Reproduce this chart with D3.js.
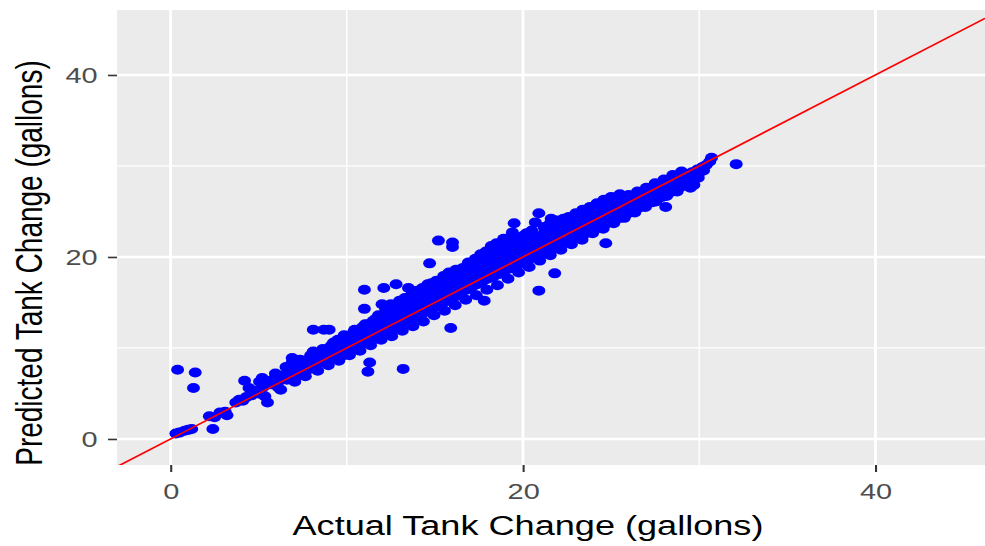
<!DOCTYPE html>
<html>
<head>
<meta charset="utf-8">
<script src="https://cdn.jsdelivr.net/npm/d3@7"></script>
<style>
  body { margin: 0; background: #ffffff; }
  svg { display: block; }
  text { font-family: "Liberation Sans", Arial, sans-serif; }
</style>
</head>
<body>
<div class="scatter_wrapper"></div>
<script>

const xTicks = [0, 20, 40]
const yTicks = [0, 20, 40]
const xMinor = [10, 30]
const yMinor = [10, 30]
const xTitle = "Actual Tank Change (gallons)"
const yTitle = "Predicted Tank Change (gallons)"

// [actual, predicted] in gallons
const tankObs = [
  [0.3,0.6],[0.5,0.7],[0.8,0.9],[1.0,1.0],[1.2,1.1],[2.2,2.5],[2.5,2.4],[2.8,2.9],[3.1,3.0],[3.2,2.6],
  [2.4,1.1],[0.4,7.6],[1.4,7.3],[1.3,5.6],
  [3.7,4.0],[3.9,4.3],[4.1,4.2],[4.3,4.6],[4.2,6.4],[4.6,4.8],[4.8,5.3],[5.0,5.0],[5.2,5.6],[5.4,5.9],
  [5.5,4.0],[5.2,6.7],[5.7,6.0],[5.8,6.5],[6.0,6.2],[6.1,5.7],[6.3,6.6],[6.4,7.0],[6.6,6.5],[6.7,7.3],
  [6.9,7.1],[6.9,8.4],[6.9,8.9],[7.1,7.6],[7.2,6.9],[7.4,7.8],[7.5,8.2],[7.7,7.5],[7.8,8.0],[8.0,8.6],
  [8.1,9.6],[8.1,12.0],[8.7,12.0],[8.2,8.0],[8.3,8.9],[8.5,8.4],[8.6,9.2],[8.8,8.7],[8.9,9.5],[9.0,9.0],
  [9.0,12.0],[9.1,10.2],[9.2,8.8],[9.3,9.8],[9.5,9.4],[9.5,10.9],[9.6,10.3],[9.7,9.1],[9.8,10.0],[9.9,11.2],
  [10.0,10.8],[10.0,9.6],[10.2,10.3],[10.3,11.1],[10.4,9.8],[10.4,11.8],[10.5,10.6],[10.6,11.5],[10.7,10.2],
  [10.8,11.0],[10.9,10.5],[10.9,12.3],[11.0,11.8],[11.0,16.4],[11.0,14.3],[11.1,10.9],[11.2,11.4],[11.3,12.3],
  [11.3,8.4],[11.2,7.4],[11.4,10.8],[11.5,11.7],[11.5,13.0],[11.6,12.5],[11.7,11.2],[11.8,12.0],[11.8,13.6],
  [11.9,12.9],[12.0,14.8],[12.0,11.5],[12.1,16.6],[12.1,12.4],[12.2,13.2],[12.2,14.3],[12.3,11.8],[12.4,12.7],
  [12.5,13.4],[12.5,14.8],[12.6,12.0],[12.7,12.9],[12.8,17.0],[12.8,13.8],[12.9,12.4],[13.0,13.2],[13.0,15.2],
  [13.1,14.0],[13.2,7.7],[13.2,12.6],[13.3,13.6],[13.3,15.5],[13.4,14.4],[13.5,16.6],[13.5,13.0],[13.6,13.9],
  [13.7,14.7],[13.7,15.9],[13.8,13.3],[13.9,14.2],[14.0,15.0],[14.0,16.3],[14.1,13.6],[14.2,14.4],[14.3,15.3],
  [14.3,16.6],[14.4,13.9],[14.5,14.8],[14.6,17.0],[14.6,15.6],[14.7,19.3],[14.7,14.2],[14.8,15.1],[14.8,17.1],
  [14.9,15.9],[15.0,14.5],[15.1,15.3],[15.1,17.4],[15.2,21.8],[15.2,16.2],[15.3,14.8],[15.4,15.7],[15.5,16.6],
  [15.5,17.9],[15.6,15.1],[15.7,16.0],[15.8,16.9],[15.8,18.3],[15.9,12.2],[15.9,15.4],[16.0,21.6],[16.0,21.1],
  [16.0,16.3],[16.1,18.2],[16.1,17.2],[16.2,15.7],[16.2,18.6],[16.3,16.6],[16.4,17.5],[16.5,16.0],[16.6,17.0],
  [16.6,18.8],[16.7,17.9],[16.8,16.4],[16.9,17.3],[16.9,19.4],[17.0,18.3],[17.1,16.7],[17.2,17.6],[17.3,18.6],
  [17.3,19.8],[17.4,17.0],[17.5,17.9],[17.6,19.0],[17.6,20.3],[17.7,17.3],[17.8,15.2],[17.8,18.2],[17.9,19.3],
  [17.9,20.6],[18.0,17.6],[18.1,18.5],[18.2,19.6],[18.2,21.2],[18.3,17.8],[18.4,18.8],[18.5,19.9],[18.5,21.5],
  [18.6,18.1],[18.7,19.1],[18.7,21.0],[18.8,20.2],[18.9,18.4],[18.9,22.0],[19.0,19.4],[19.1,20.5],[19.1,21.6],
  [19.2,18.7],[19.3,19.7],[19.3,22.2],[19.4,22.7],[19.4,20.8],[19.5,23.7],[19.5,19.0],[19.6,20.0],[19.7,21.1],
  [19.7,22.0],[19.8,19.2],[19.9,20.3],[20.0,21.2],[20.0,22.3],[20.1,19.5],[20.2,20.5],[20.2,22.6],[20.3,21.4],
  [20.4,19.8],[20.5,20.8],[20.5,22.9],[20.6,21.7],[20.7,23.8],[20.7,20.0],[20.8,21.0],[20.9,24.8],[20.9,16.3],
  [20.9,22.0],[21.0,20.3],[21.1,21.3],[21.2,22.3],[21.2,23.3],[21.3,20.6],[21.4,21.5],[21.5,22.5],[21.5,23.6],
  [21.6,24.2],[21.6,20.8],[21.7,21.8],[21.8,18.2],[21.8,22.8],[21.9,21.1],[21.9,24.0],[22.0,22.0],[22.1,23.0],
  [22.2,21.4],[22.3,22.3],[22.3,24.2],[22.4,23.3],[22.5,21.6],[22.6,22.6],[22.6,24.4],[22.7,23.5],[22.8,21.9],
  [22.9,22.8],[23.0,23.8],[23.0,24.8],[23.1,22.2],[23.2,23.1],[23.3,24.0],[23.4,22.4],[23.4,25.2],[23.5,23.4],
  [23.6,24.3],[23.7,22.7],[23.8,23.6],[23.8,25.5],[23.9,24.6],[24.0,23.0],[24.1,23.9],[24.2,24.9],[24.2,25.9],
  [24.3,23.2],[24.4,24.2],[24.5,25.1],[24.6,23.5],[24.6,26.3],[24.7,21.5],[24.7,24.4],[24.8,25.4],[24.9,23.8],
  [25.0,24.7],[25.0,26.6],[25.1,25.6],[25.2,24.0],[25.3,25.0],[25.4,25.9],[25.5,24.3],[25.5,26.9],[25.6,25.2],
  [25.7,26.1],[25.8,24.6],[25.9,25.5],[26.0,26.4],[26.0,26.8],[26.1,24.9],[26.2,25.8],[26.3,26.6],[26.4,25.2],
  [26.5,26.0],[26.5,27.2],[26.6,26.9],[26.7,25.5],[26.8,26.3],[26.9,27.1],[27.0,25.8],[27.0,27.6],[27.1,26.6],
  [27.2,27.4],[27.3,26.0],[27.4,26.9],[27.5,27.6],[27.5,28.1],[27.6,26.3],[27.7,27.1],[27.8,27.9],[27.9,26.6],
  [28.0,27.4],[28.0,28.5],[28.1,25.5],[28.1,28.1],[28.2,26.9],[28.3,27.7],[28.4,28.4],[28.5,27.2],[28.5,29.0],
  [28.6,27.9],[28.7,28.6],[28.8,27.5],[28.9,28.2],[29.0,28.9],[29.0,29.4],[29.1,27.8],[29.2,28.5],[29.3,29.1],
  [29.5,27.6],[29.7,27.9],[29.4,28.8],[29.6,29.3],[29.8,29.1],[29.9,29.6],[30.1,29.4],[30.2,29.9],[30.4,30.1],
  [30.6,30.5],[30.7,30.9],[32.1,30.2],
  // wider scatter around the band
  [4.45,5.6],[5.05,6.3],[5.35,4.7],[5.95,7.2],[6.25,5.4],[6.55,7.9],[7.05,6.3],[7.35,8.7],[7.65,6.9],
  [7.95,9.2],[8.35,7.5],[8.65,9.9],[8.95,8.1],[9.25,10.6],[9.55,8.6],[9.85,11.4],[10.15,9.2],[10.45,12.0],
  [10.75,9.7],[11.05,12.6],[11.35,10.3],[11.65,13.2],[11.95,10.9],[12.25,13.9],[12.55,11.3],[12.85,14.5],
  [13.15,11.9],[13.45,15.1],[13.75,12.4],[14.05,15.8],[14.35,12.9],[14.65,16.4],[14.95,13.6],[15.25,17.0],
  [15.55,14.1],[15.85,17.5],[16.15,14.7],[16.45,18.3],[16.75,15.3],[17.05,19.0],[17.35,15.8],[17.65,19.6],
  [17.95,16.4],[18.25,20.2],[18.55,16.9],[18.85,20.8],[19.15,17.6],[19.45,21.4],[19.75,18.3],[20.05,21.9],
  [20.35,18.9],[20.65,22.4],[20.95,19.6],[21.25,22.9],[21.55,20.2],[21.85,23.4],[22.15,20.8],[22.45,23.8],
  [22.75,21.4],[23.05,24.3],[23.35,21.9],[23.65,24.7],[23.95,22.6],[24.25,25.1],[24.55,23.1],[24.85,25.6],
  [25.15,23.7],[25.45,25.9],[25.75,24.3],[26.05,26.3],[26.35,24.9],[26.65,26.8],[26.95,25.5],[27.25,27.3],
  [27.55,26.1],[27.85,27.7],[28.15,26.7],[28.45,28.1],[28.75,27.2],[29.05,28.4],[29.35,27.9],[29.65,28.6],
  [29.95,28.7],[30.25,29.5],
  [12.4,13.5],[13.6,14.9],[14.9,16.5],[15.6,16.8],[16.8,18.2],[17.2,18.9],[18.0,19.7],[18.6,20.5],[19.2,20.9],
  [19.9,21.6],[20.6,22.1],[21.3,22.6],[22.0,23.2],[22.8,23.9],[23.6,24.9],[24.4,25.5],[10.6,11.9],[11.2,12.6],
  [9.8,10.9],[9.2,10.4],[8.4,9.4],[7.6,8.6],[6.8,7.8],[6.0,6.9]
]


function drawScatter () {

  // the source picture is stretched sideways, so draw narrow and let the viewBox widen it
  const stretch = 1.29

  let dimensions = {
    width: 985,
    height: 546,
    margin: {
      top: 10,
      right: 0,
      bottom: 81,
      left: 90.7,
    },
  }
  dimensions.innerWidth = dimensions.width / stretch
  dimensions.boundedWidth = dimensions.innerWidth
    - dimensions.margin.left
    - dimensions.margin.right
  dimensions.boundedHeight = dimensions.height
    - dimensions.margin.top
    - dimensions.margin.bottom

  const wrapper = d3.select(".scatter_wrapper")
    .append("svg")
      .attr("width", dimensions.width)
      .attr("height", dimensions.height)
      .attr("viewBox", `0 0 ${dimensions.innerWidth} ${dimensions.height}`)
      .attr("preserveAspectRatio", "none")

  const bounds = wrapper.append("g")
    .attr("transform", `translate(${dimensions.margin.left},${dimensions.margin.top})`)

  const xScale = d3.scaleLinear()
    .domain([-3.04, 46.22])
    .range([0, dimensions.boundedWidth])

  const yScale = d3.scaleLinear()
    .domain([-2.86, 47.14])
    .range([dimensions.boundedHeight, 0])

  // panel + grid
  bounds.append("rect")
    .attr("width", dimensions.boundedWidth)
    .attr("height", dimensions.boundedHeight)
    .attr("fill", "#ebebeb")

  bounds.selectAll(".xminor")
    .data(xMinor)
    .enter().append("line")
      .attr("x1", d => xScale(d)).attr("x2", d => xScale(d))
      .attr("y1", 0).attr("y2", dimensions.boundedHeight)
      .attr("stroke", "#ffffff").attr("stroke-width", 1.1)

  bounds.selectAll(".yminor")
    .data(yMinor)
    .enter().append("line")
      .attr("x1", 0).attr("x2", dimensions.boundedWidth)
      .attr("y1", d => yScale(d)).attr("y2", d => yScale(d))
      .attr("stroke", "#ffffff").attr("stroke-width", 1.3)

  bounds.selectAll(".xmajor")
    .data(xTicks)
    .enter().append("line")
      .attr("x1", d => xScale(d)).attr("x2", d => xScale(d))
      .attr("y1", 0).attr("y2", dimensions.boundedHeight)
      .attr("stroke", "#ffffff").attr("stroke-width", 2.2)

  bounds.selectAll(".ymajor")
    .data(yTicks)
    .enter().append("line")
      .attr("x1", 0).attr("x2", dimensions.boundedWidth)
      .attr("y1", d => yScale(d)).attr("y2", d => yScale(d))
      .attr("stroke", "#ffffff").attr("stroke-width", 2.6)

  // points
  bounds.selectAll(".dot")
    .data(tankObs)
    .enter().append("circle")
      .attr("cx", d => xScale(d[0]))
      .attr("cy", d => yScale(d[1]))
      .attr("r", 5)
      .attr("fill", "#0000ff")

  // y = x reference line, clipped to the panel
  wrapper.append("defs").append("clipPath")
      .attr("id", "panel_clip")
    .append("rect")
      .attr("width", dimensions.boundedWidth)
      .attr("height", dimensions.boundedHeight)

  const xd = xScale.domain()
  bounds.append("line")
    .attr("clip-path", "url(#panel_clip)")
    .attr("x1", xScale(xd[0])).attr("y1", yScale(xd[0]))
    .attr("x2", xScale(xd[1])).attr("y2", yScale(xd[1]))
    .attr("stroke", "#ff0000")
    .attr("stroke-width", 1.6)

  // axes
  const xAxis = d3.axisBottom(xScale)
    .tickValues(xTicks)
    .tickSize(7)
    .tickPadding(11)

  const xAxisG = bounds.append("g")
    .attr("transform", `translate(0,${dimensions.boundedHeight})`)
    .call(xAxis)

  const yAxis = d3.axisLeft(yScale)
    .tickValues(yTicks)
    .tickSize(7)
    .tickPadding(8)

  const yAxisG = bounds.append("g")
    .call(yAxis)

  ;[xAxisG, yAxisG].forEach(g => {
    g.select(".domain").remove()
    g.selectAll(".tick line").attr("stroke", "#333333").attr("stroke-width", 1.6)
    g.selectAll(".tick text")
      .attr("fill", "#4d4d4d")
      .style("font-size", "22.4px")
      .style("font-family", "'Liberation Sans', Arial, sans-serif")
  })

  // titles
  wrapper.append("text")
    .attr("x", 409.3)
    .attr("y", 535)
    .attr("text-anchor", "middle")
    .style("font-size", "28px")
    .attr("fill", "#000000")
    .text(xTitle)

  wrapper.append("text")
    .attr("transform", "translate(32.6,263) rotate(-90)")
    .attr("text-anchor", "middle")
    .style("font-size", "28px")
    .attr("fill", "#000000")
    .text(yTitle)
}

drawScatter()
</script>
</body>
</html>
